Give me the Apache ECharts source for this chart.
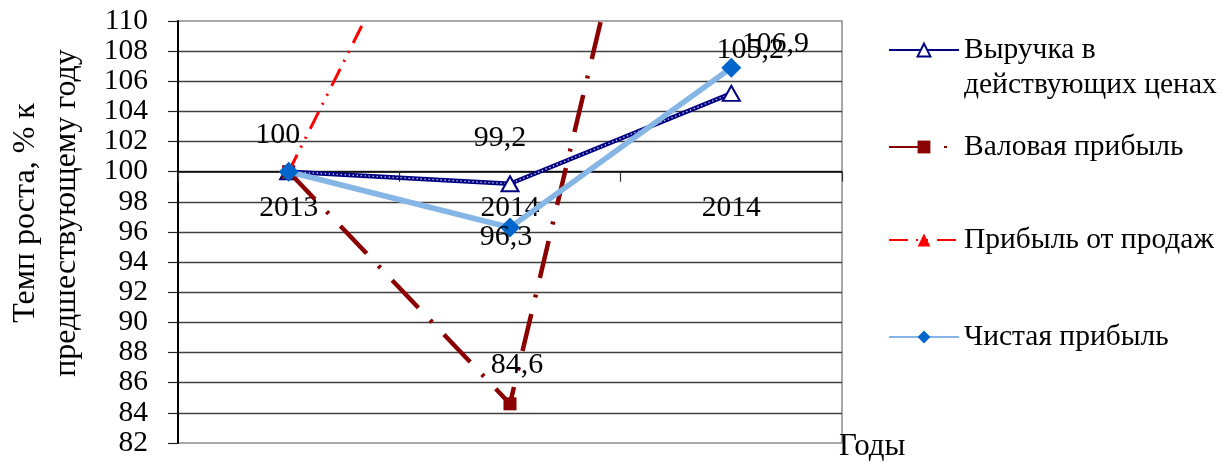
<!DOCTYPE html>
<html>
<head>
<meta charset="utf-8">
<script src="https://cdn.jsdelivr.net/npm/echarts@6/dist/echarts.min.js"></script>
<style>
  html, body { margin: 0; padding: 0; background: #fff; }
  #chart { width: 1232px; height: 464px; }
</style>
</head>
<body>
<div id="chart"></div>
<script>
// Growth rates, % of the previous year
const years = ['2013', '2014', '2014'];
const revenue = [100, 99.2, 105.2];
const grossProfit = [100, 84.6, 146.5];
const salesProfit = [100, 129.3, 127];
const netProfit = [100, 96.3, 106.9];

const yMin = 82;
const yMax = 110;
const yStep = 2;
const crossValue = 100;   // the category axis crosses the value axis here

const seriesNames = [
  'Выручка в действующих ценах',
  'Валовая прибыль',
  'Прибыль от продаж',
  'Чистая прибыль'
];
const yAxisTitle = 'Темп роста, % к\nпредшествующему году';
const xAxisTitle = 'Годы';

// ---- layout & style ----
const FONT = '"Liberation Serif", "Times New Roman", serif';
const grid = { left: 178, top: 21, width: 664, height: 422 };
const xAxisOffset = -grid.height * (crossValue - yMin) / (yMax - yMin);

// value-label offsets (px from marker centre) for the points that carry labels
const labelOffsets = {
  revenue: { 0: [-11, -37], 1: [-10, -46], 2: [19, -43] },
  gross: { 1: [7, -39] },
  sales: {},
  net: { 1: [-4, 10], 2: [44, -24] }
};

const fmt = v => String(v).replace('.', ',');

function withLabels(values, offsets) {
  return values.map((v, i) => {
    const off = offsets[i];
    if (!off) return { value: v, label: { show: false } };
    return {
      value: v,
      label: {
        show: true,
        position: 'inside',
        offset: off,
        formatter: p => fmt(p.value),
        fontFamily: FONT,
        fontSize: 30,
        color: '#000',
        textBorderWidth: 0
      }
    };
  });
}

const legendText = { fontFamily: FONT, fontSize: 29.5, color: '#000', lineHeight: 35 };
function legendFor(name, top, formatter) {
  const l = {
    data: [name],
    left: 888,
    top: top,
    orient: 'vertical',
    padding: 0,
    itemWidth: 70,
    itemHeight: 16,
    textStyle: legendText,
    selectedMode: false
  };
  if (formatter) l.formatter = formatter;
  return l;
}

const chart = echarts.init(document.getElementById('chart'), null, { renderer: 'canvas' });

chart.setOption({
  animation: false,
  backgroundColor: '#fff',
  grid: Object.assign({
    show: true,
    borderColor: '#8c8c8c',
    borderWidth: 1.5,
    backgroundColor: 'transparent',
    containLabel: false,
    outerBoundsMode: 'none'
  }, grid),
  legend: [
    legendFor(seriesNames[0], -2.5, () => '\nВыручка в\nдействующих ценах'),
    legendFor(seriesNames[1], 129.5),
    legendFor(seriesNames[2], 222.5),
    legendFor(seriesNames[3], 319.5)
  ],
  graphic: [{
    type: 'text',
    left: 839,
    top: 431,
    style: { text: xAxisTitle, font: '31px ' + FONT, fill: '#000' }
  }],
  xAxis: {
    type: 'category',
    data: years,
    boundaryGap: true,
    position: 'bottom',
    offset: xAxisOffset,
    axisLine: { show: true, onZero: false, lineStyle: { color: '#000', width: 1.5 } },
    axisTick: { show: true, inside: false, length: 10, alignWithLabel: false, lineStyle: { color: '#333', width: 1.2 } },
    axisLabel: { margin: 22, fontFamily: FONT, fontSize: 29.5, color: '#000' },
    splitLine: { show: false }
  },
  yAxis: {
    type: 'value',
    min: yMin,
    max: yMax,
    interval: yStep,
    name: yAxisTitle,
    nameLocation: 'middle',
    nameGap: 91,
    nameTextStyle: { fontFamily: FONT, fontSize: 32, color: '#000', lineHeight: 41, padding: [0, 0, 0, 38] },
    axisLine: { show: true, lineStyle: { color: '#000', width: 2 } },
    axisTick: { show: true, inside: false, length: 10, lineStyle: { color: '#222', width: 1.2 } },
    axisLabel: { margin: 30, fontFamily: FONT, fontSize: 29.5, color: '#000' },
    splitLine: { show: true, showMinLine: false, showMaxLine: false, lineStyle: { color: '#404040', width: 1.4 } }
  },
  series: [
    {
      name: seriesNames[0],
      type: 'line',
      data: withLabels(revenue, labelOffsets.revenue),
      symbol: 'triangle',
      symbolSize: [17, 15],
      lineStyle: { color: '#000080', width: 4.5 },
      itemStyle: { color: '#fff', borderColor: '#000080', borderWidth: 2 },
      emphasis: { disabled: true },
      z: 2
    },
    {
      // fine white dotting along the revenue line (beaded texture)
      name: 'revenue-texture',
      type: 'line',
      data: revenue,
      symbol: 'none',
      silent: true,
      lineStyle: { color: 'rgba(255,255,255,0.75)', width: 1.4, type: [1.4, 2.6] },
      emphasis: { disabled: true },
      z: 2
    },
    {
      name: seriesNames[1],
      type: 'line',
      data: withLabels(grossProfit, labelOffsets.gross),
      symbol: 'rect',
      symbolSize: 13,
      lineStyle: { color: '#8b0000', width: 4.5, type: [38, 17, 3, 17] },
      itemStyle: { color: '#8b0000' },
      emphasis: { disabled: true },
      z: 3
    },
    {
      name: seriesNames[2],
      type: 'line',
      data: withLabels(salesProfit, labelOffsets.sales),
      symbol: 'triangle',
      symbolSize: 9,
      lineStyle: { color: '#ff0000', width: 3, type: [19, 8, 2, 8, 2, 9] },
      itemStyle: { color: '#ff0000' },
      emphasis: { disabled: true },
      z: 4
    },
    {
      name: seriesNames[3],
      type: 'line',
      data: withLabels(netProfit, labelOffsets.net),
      symbol: 'diamond',
      symbolSize: 20,
      lineStyle: { color: '#86b6e6', width: 5.5 },
      itemStyle: { color: '#0066cc' },
      emphasis: { disabled: true },
      z: 5
    }
  ]
});
</script>
</body>
</html>
